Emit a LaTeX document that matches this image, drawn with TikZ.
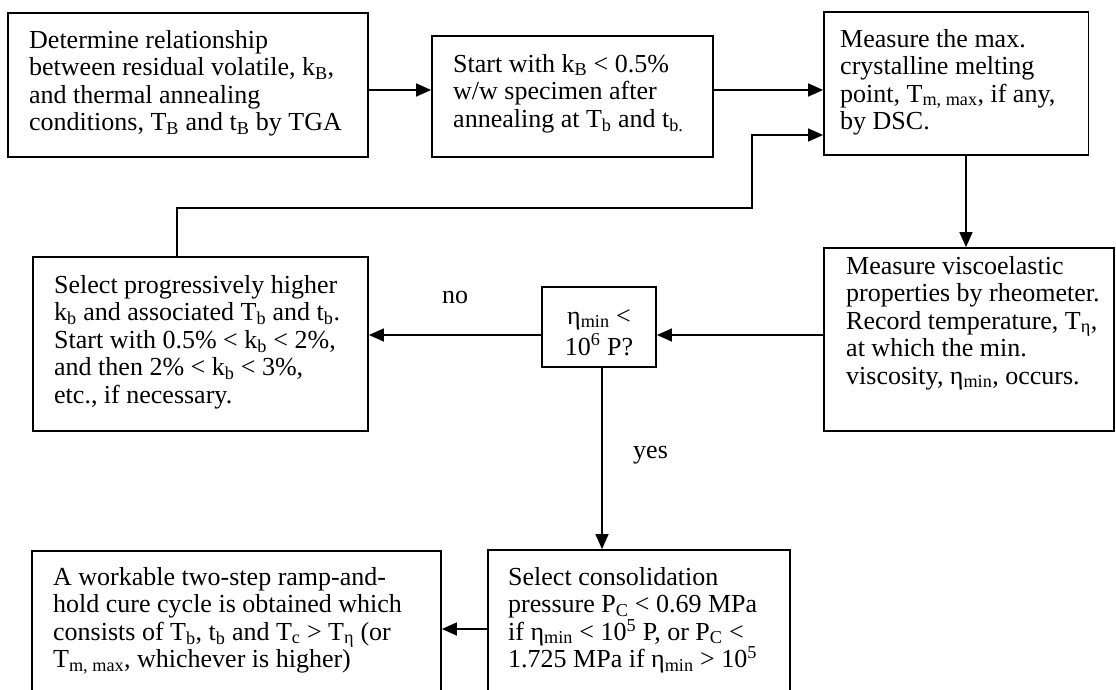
\documentclass[tikz,border=0pt]{standalone}
\usepackage{fontspec}
\setmainfont{Liberation Serif}
\usetikzlibrary{arrows.meta}
\begin{document}
\begin{tikzpicture}[x=1pt,y=-1pt,
  box/.style={draw=black, line width=1.8pt, inner sep=0pt},
  txt/.style={anchor=north west, align=left, inner sep=0pt, font=\fontsize{26}{27.5}\selectfont},
  lbl/.style={inner sep=0pt, font=\fontsize{26}{27.5}\selectfont},
  arr/.style={line width=1.5pt, -{Triangle[length=15pt,width=13pt]}}]
\useasboundingbox (0,0) rectangle (1116,690);
\clip (0,0) rectangle (1116,690);
% boxes
\node[box, minimum width=360pt, minimum height=144pt] (b1) at (188,85) {};
\node[box, minimum width=281pt, minimum height=121pt] (b2) at (572.5,96.5) {};
\node[box, minimum width=264.5pt, minimum height=143pt] (b3) at (956.25,83.5) {};
\node[box, minimum width=335pt, minimum height=174pt] (b4) at (200.5,344) {};
\node[box, minimum width=290pt, minimum height=183pt] (b5) at (969,339.5) {};
\node[box, minimum width=114pt, minimum height=80pt] (dec) at (599,327) {};
\node[box, minimum width=302pt, minimum height=170pt] (b6) at (639,635) {};
\node[box, minimum width=409pt, minimum height=169pt] (b7) at (236.5,635.5) {};
% texts
\node[txt] (t1) at (29,30) {Determine relationship\\between residual volatile, k\textsubscript{B},\\and thermal annealing\\conditions, T\textsubscript{B} and t\textsubscript{B} by TGA};
\node[txt] (t2) at (453,54) {Start with k\textsubscript{B} < 0.5\%\\w/w specimen after\\annealing at T\textsubscript{b} and t\textsubscript{b.}};
\node[txt] (t3) at (840,29) {Measure the max.\\crystalline melting\\point, T\textsubscript{m, max}, if any,\\by DSC.};
\node[txt] (t4) at (54,275) {Select progressively higher\\k\textsubscript{b} and associated T\textsubscript{b} and t\textsubscript{b}.\\Start with 0.5\% < k\textsubscript{b} < 2\%,\\and then 2\% < k\textsubscript{b} < 3\%,\\etc., if necessary.};
\node[txt] (t5) at (846,256) {Measure viscoelastic\\properties by rheometer.\\Record temperature, T\textsubscript{η},\\at which the min.\\viscosity, η\textsubscript{min}, occurs.};
\node[lbl, anchor=base] (td1) at (599,324) {η\textsubscript{min} <};
\node[lbl, anchor=base] (td2) at (599,355) {10\textsuperscript{6} P?};
\node[txt] (t6) at (508,567) {Select consolidation\\pressure P\textsubscript{C} < 0.69 MPa\\if η\textsubscript{min} < 10\textsuperscript{5} P, or P\textsubscript{C} <\\1.725 MPa if η\textsubscript{min} > 10\textsuperscript{5}};
\node[txt] (t7) at (53,567) {A workable two-step ramp-and-\\hold cure cycle is obtained which\\consists of T\textsubscript{b}, t\textsubscript{b} and T\textsubscript{c} > T\textsubscript{η} (or\\T\textsubscript{m, max}, whichever is higher)};
\node[lbl] (no) at (455,297) {no};
\node[lbl, anchor=west] (yes) at (633,455) {yes};
% guide coordinates
\coordinate (r1) at (0,90);
\coordinate (r2) at (0,135);
\coordinate (r3) at (752,208);
\coordinate (r4) at (177,0);
\coordinate (r5) at (966,0);
\coordinate (r6) at (0,335);
\coordinate (r7) at (602,0);
\coordinate (r8) at (0,629);
% connectors
\draw[arr] (b1.east |- r1) -- (b2.west |- r1);
\draw[arr] (b2.east |- r1) -- (b3.west |- r1);
\draw[arr] (b4.north -| r4) |- (r3) |- (b3.west |- r2);
\draw[arr] (b3.south -| r5) -- (b5.north -| r5);
\draw[arr] (b5.west |- r6) -- (dec.east |- r6);
\draw[arr] (dec.west |- r6) -- (b4.east |- r6);
\draw[arr] (dec.south -| r7) -- (b6.north -| r7);
\draw[arr] (b6.west |- r8) -- (b7.east |- r8);
\end{tikzpicture}
\end{document}
